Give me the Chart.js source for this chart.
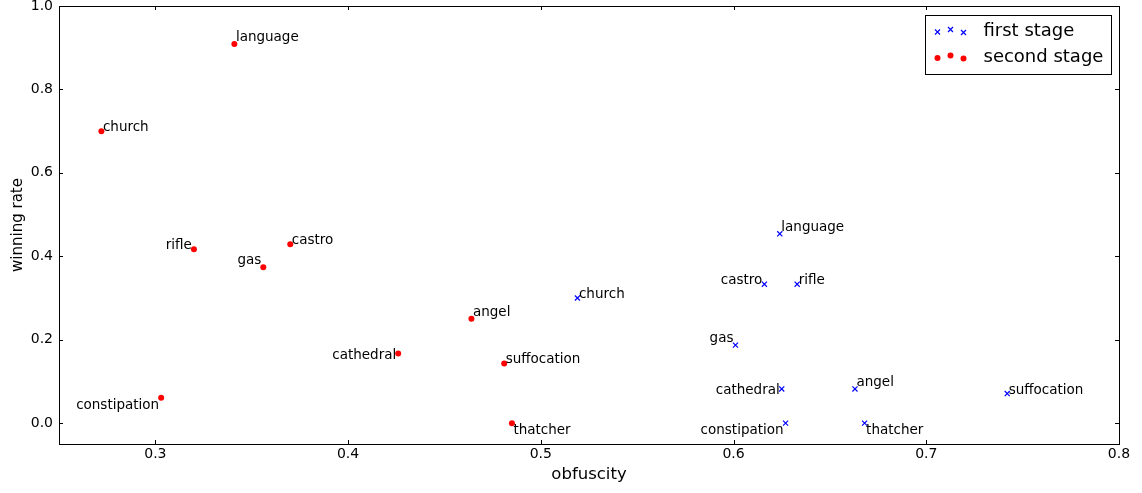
<!DOCTYPE html>
<html>
<head>
<meta charset="utf-8">
<script src="https://cdn.jsdelivr.net/npm/chart.js@4.4.1/dist/chart.umd.min.js"></script>
<style>
  html, body { margin: 0; padding: 0; background: #fff; }
  #wrap { width: 1142px; height: 493px; }
</style>
</head>
<body>
<div id="wrap"><canvas id="grafica"></canvas></div>
<script>
// Datos
const words = ['language', 'church', 'rifle', 'castro', 'gas', 'angel', 'cathedral', 'suffocation', 'constipation', 'thatcher'];

const obfFirst = [0.624, 0.519, 0.633, 0.616, 0.601, 0.663, 0.625, 0.742, 0.627, 0.668];
const winFirst = [0.454, 0.300, 0.333, 0.333, 0.187, 0.082, 0.082, 0.071, 0.000, 0.000];

const obfSecond = [0.341, 0.272, 0.320, 0.370, 0.356, 0.464, 0.426, 0.481, 0.303, 0.485];
const winSecond = [0.909, 0.700, 0.417, 0.429, 0.374, 0.250, 0.167, 0.143, 0.061, 0.000];

const xTicks = [0.3, 0.4, 0.5, 0.6, 0.7, 0.8];
const yTicks = [0.0, 0.2, 0.4, 0.6, 0.8, 1.0];

// donde va cada etiqueta respecto al punto
const placeFirst = ['ne', 'ne', 'ne', 'nw', 'nw', 'ne', 'w', 'ne', 'sw', 'se'];
const placeSecond = ['ne', 'ne', 'nw', 'ne', 'nw', 'ne', 'w', 'ne', 'sw', 'se'];

const FONT = "'DejaVu Sans', sans-serif";

function toPoints(xs, ys) {
    return xs.map((x, i) => ({ x: x, y: ys[i], word: words[i] }));
}

// Marco con ticks hacia dentro en los cuatro lados
const frameTicks = {
    id: 'frameTicks',
    afterDraw(chart) {
        const ctx = chart.ctx;
        const a = chart.chartArea;
        const xs = chart.scales.x;
        const ys = chart.scales.y;
        const len = 4;
        ctx.save();
        ctx.strokeStyle = '#000';
        ctx.lineWidth = 1;
        ctx.beginPath();
        for (const v of xTicks) {
            const px = Math.round(xs.getPixelForValue(v)) + 0.5;
            ctx.moveTo(px, a.bottom); ctx.lineTo(px, a.bottom - len);
            ctx.moveTo(px, a.top); ctx.lineTo(px, a.top + len);
        }
        for (const v of yTicks) {
            const py = Math.round(ys.getPixelForValue(v)) + 0.5;
            ctx.moveTo(a.left, py); ctx.lineTo(a.left + len, py);
            ctx.moveTo(a.right, py); ctx.lineTo(a.right - len, py);
        }
        ctx.stroke();
        ctx.strokeRect(Math.round(a.left) + 0.5, Math.round(a.top) + 0.5,
            Math.round(a.right - a.left), Math.round(a.bottom - a.top));
        ctx.restore();
    }
};

// Etiquetas de texto junto a cada punto
const pointLabels = {
    id: 'pointLabels',
    afterDatasetsDraw(chart) {
        const ctx = chart.ctx;
        ctx.save();
        ctx.font = '13.5px ' + FONT;
        ctx.fillStyle = '#000';
        ctx.textBaseline = 'alphabetic';
        chart.data.datasets.forEach((ds, di) => {
            const meta = chart.getDatasetMeta(di);
            meta.data.forEach((el, i) => {
                const text = ds.data[i].word;
                const where = ds.labelPlace[i];
                const m = ctx.measureText(text);
                const asc = m.actualBoundingBoxAscent;
                const desc = m.actualBoundingBoxDescent;
                let x = el.x;
                let y = el.y;
                if (where.endsWith('w')) {
                    ctx.textAlign = 'right';
                    x -= 2;
                } else {
                    ctx.textAlign = 'left';
                    x += 1.5;
                }
                if (where[0] === 'n') {
                    y -= desc;
                } else if (where[0] === 's') {
                    y += asc;
                } else {
                    y += (asc - desc) / 2;
                }
                ctx.fillText(text, x, y);
            });
        });
        ctx.restore();
    }
};

// Leyenda con tres marcadores, dentro del area, arriba a la derecha
const legendBox = {
    id: 'legendBox',
    afterDraw(chart) {
        const ctx = chart.ctx;
        const a = chart.chartArea;
        const w = 186, h = 59;
        const left = Math.round(a.right - 8 - w) + 0.5;
        const top = Math.round(a.top + 9) + 0.5;
        const offs = [1.5, -1, 2];
        ctx.save();
        ctx.fillStyle = '#fff';
        ctx.fillRect(left, top, w, h);
        ctx.strokeStyle = '#000';
        ctx.lineWidth = 1;
        ctx.strokeRect(left, top, w, h);
        chart.data.datasets.forEach((ds, di) => {
            const rowY = top + 15 + di * 26;
            [12, 25, 38].forEach((dx, k) => {
                const cx = left + dx;
                const cy = rowY + offs[k];
                if (ds.pointStyle === 'crossRot') {
                    const r = 2.5;
                    ctx.strokeStyle = ds.borderColor;
                    ctx.lineWidth = ds.borderWidth;
                    ctx.beginPath();
                    ctx.moveTo(cx - r, cy - r); ctx.lineTo(cx + r, cy + r);
                    ctx.moveTo(cx - r, cy + r); ctx.lineTo(cx + r, cy - r);
                    ctx.stroke();
                } else {
                    ctx.fillStyle = ds.backgroundColor;
                    ctx.beginPath();
                    ctx.arc(cx, cy, ds.pointRadius, 0, Math.PI * 2);
                    ctx.fill();
                }
            });
            ctx.fillStyle = '#000';
            ctx.font = '18px ' + FONT;
            ctx.textAlign = 'left';
            ctx.textBaseline = 'middle';
            ctx.fillText(ds.label, left + 58, rowY + 1);
        });
        ctx.restore();
    }
};

function crearGrafica() {
    const ctx = document.getElementById('grafica').getContext('2d');
    return new Chart(ctx, {
        type: 'scatter',
        data: {
            datasets: [{
                label: 'first stage',
                data: toPoints(obfFirst, winFirst),
                labelPlace: placeFirst,
                pointStyle: 'crossRot',
                pointRadius: 3.6,
                borderColor: '#0000ff',
                backgroundColor: '#0000ff',
                borderWidth: 1.2
            }, {
                label: 'second stage',
                data: toPoints(obfSecond, winSecond),
                labelPlace: placeSecond,
                pointStyle: 'circle',
                pointRadius: 3,
                borderColor: '#ff0000',
                backgroundColor: '#ff0000',
                borderWidth: 0
            }]
        },
        options: {
            responsive: true,
            maintainAspectRatio: false,
            animation: false,
            events: [],
            layout: { padding: { top: 6, right: 23, left: 0, bottom: 0 } },
            plugins: {
                legend: { display: false },
                tooltip: { enabled: false }
            },
            scales: {
                x: {
                    type: 'linear',
                    min: 0.25,
                    max: 0.8,
                    grid: { display: false, drawTicks: false },
                    border: { display: false },
                    afterBuildTicks: (s) => { s.ticks = xTicks.map(v => ({ value: v })); },
                    afterFit: (s) => { s.height = 49; s.paddingLeft = 0; s.paddingRight = 0; },
                    ticks: {
                        color: '#000',
                        padding: 2,
                        maxRotation: 0,
                        font: { family: FONT, size: 14 },
                        callback: (v) => Number(v).toFixed(1)
                    },
                    title: {
                        display: true,
                        text: 'obfuscity',
                        color: '#000',
                        padding: { top: 8, bottom: 8 },
                        font: { family: FONT, size: 16.5 }
                    }
                },
                y: {
                    type: 'linear',
                    min: -0.05,
                    max: 1.0,
                    grid: { display: false, drawTicks: false },
                    border: { display: false },
                    afterBuildTicks: (s) => { s.ticks = yTicks.map(v => ({ value: v })); },
                    afterFit: (s) => { s.width = 59; s.paddingTop = 0; s.paddingBottom = 0; },
                    ticks: {
                        color: '#000',
                        padding: 6,
                        font: { family: FONT, size: 14 },
                        callback: (v) => Number(v).toFixed(1)
                    },
                    title: {
                        display: true,
                        text: 'winning rate',
                        color: '#000',
                        padding: { top: 9, bottom: 8 },
                        font: { family: FONT, size: 15 }
                    }
                }
            }
        },
        plugins: [frameTicks, pointLabels, legendBox]
    });
}

window.addEventListener('DOMContentLoaded', () => {
    crearGrafica();
});
</script>
</body>
</html>
